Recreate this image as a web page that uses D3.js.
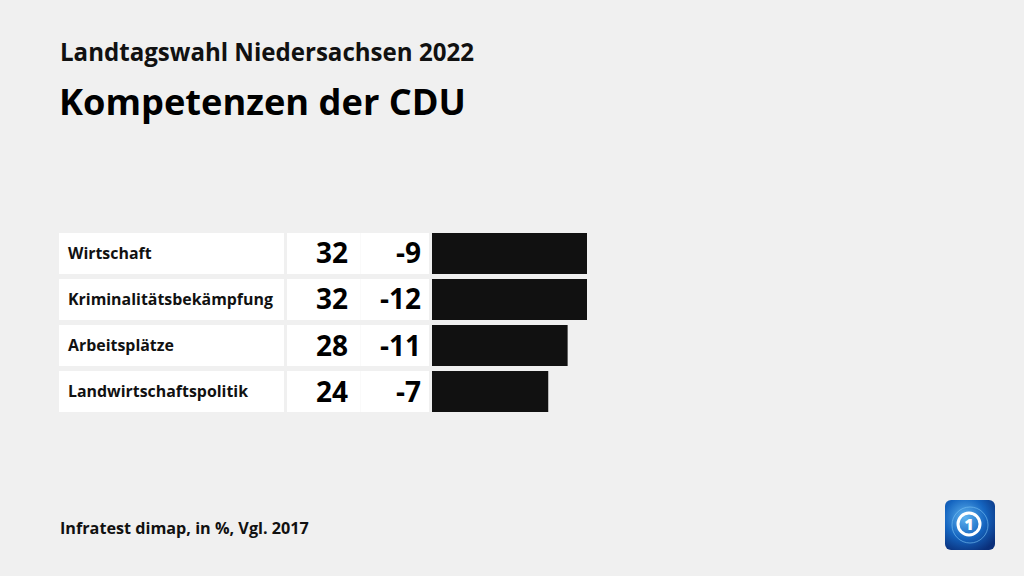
<!DOCTYPE html>
<html><head><meta charset="utf-8">
<script src="https://cdn.jsdelivr.net/npm/d3@7"></script>
<style>
html,body{margin:0;padding:0;background:#f0f0f0;}
svg{display:block;font-family:"Open Sans", Lato, sans-serif;}
</style></head>
<body>
<svg id="c" width="1024" height="576"></svg>
<script>
const categories = ["Wirtschaft","Kriminalitätsbekämpfung","Arbeitsplätze","Landwirtschaftspolitik"];
const values = [32,32,28,24];
const changes = [-9,-12,-11,-7];

const svg = d3.select("#c");
svg.append("rect").attr("width",1024).attr("height",576).attr("fill","#f0f0f0");

// fit font size so text spans target width
function fit(sel, target){
  const n = sel.node();
  const fs = +sel.attr("font-size");
  const w = n.getComputedTextLength();
  if (w > 0) sel.attr("font-size", (fs*target/w).toFixed(2));
}

fit(svg.append("text").attr("x",60).attr("y",61).attr("font-size",22).attr("font-weight",700)
  .attr("fill","#111").text("Landtagswahl Niedersachsen 2022"), 414);
fit(svg.append("text").attr("x",59).attr("y",115).attr("font-size",38).attr("font-weight",700)
  .attr("fill","#000").text("Kompetenzen der CDU"), 407);
fit(svg.append("text").attr("x",60).attr("y",534).attr("font-size",16).attr("font-weight",700)
  .attr("fill","#111").text("Infratest dimap, in %, Vgl. 2017"), 249);

const y = d3.scaleBand().domain(categories).range([233,412]).paddingInner(0.109).paddingOuter(0);
const x = d3.scaleLinear().domain([0,32]).range([432,587]);

const rows = svg.append("g").selectAll("g").data(categories).join("g");
rows.append("rect").attr("x",59).attr("y",d=>y(d)).attr("width",225).attr("height",y.bandwidth()).attr("fill","#fff");
rows.append("rect").attr("x",287).attr("y",d=>y(d)).attr("width",142).attr("height",y.bandwidth()).attr("fill","#fff");
rows.append("line").attr("x1",360.5).attr("x2",360.5).attr("y1",d=>y(d)).attr("y2",d=>y(d)+y.bandwidth()).attr("stroke","#fafafa");
const labels = rows.append("text").attr("x",68).attr("y",d=>y(d)+y.bandwidth()/2+5.5).attr("font-size",15.5).attr("font-weight",700)
  .attr("fill","#111").text(d=>d);
// scale labels uniformly using the longest one
(function(){
  const n = labels.nodes()[1];
  const w = n.getComputedTextLength();
  const fs = 15.5*205/w;
  labels.attr("font-size", fs.toFixed(2));
})();
rows.append("text").attr("x",348).attr("y",d=>y(d)+y.bandwidth()/2+10).attr("font-size",28).attr("font-weight",700)
  .attr("text-anchor","end").attr("fill","#000").text((d,i)=>values[i]);
rows.append("text").attr("x",421).attr("y",d=>y(d)+y.bandwidth()/2+10).attr("font-size",28).attr("font-weight",700)
  .attr("text-anchor","end").attr("fill","#000").text((d,i)=>changes[i]);
rows.append("rect").attr("x",x(0)).attr("y",d=>y(d)).attr("width",(d,i)=>x(values[i])-x(0)).attr("height",y.bandwidth()).attr("fill","#111");

// logo
const defs = svg.append("defs");
const g1 = defs.append("radialGradient").attr("id","lg").attr("cx","40%").attr("cy","35%").attr("r","75%");
g1.append("stop").attr("offset","0%").attr("stop-color","#5fb4f0");
g1.append("stop").attr("offset","55%").attr("stop-color","#1565c0");
g1.append("stop").attr("offset","100%").attr("stop-color","#0a2f7a");
const logo = svg.append("g").attr("transform","translate(945,500)");
logo.append("rect").attr("width",50).attr("height",50).attr("rx",6).attr("fill","url(#lg)");
logo.append("circle").attr("cx",25).attr("cy",25).attr("r",18).attr("fill","none").attr("stroke","#7cc4f5").attr("stroke-width",1).attr("opacity",0.6);
logo.append("circle").attr("cx",24).attr("cy",24).attr("r",11).attr("fill","none").attr("stroke","#fff").attr("stroke-width",3);
logo.append("text").attr("x",24).attr("y",30).attr("text-anchor","middle").attr("font-size",16).attr("font-weight",800).attr("fill","#fff").text("1");
</script>
</body></html>
